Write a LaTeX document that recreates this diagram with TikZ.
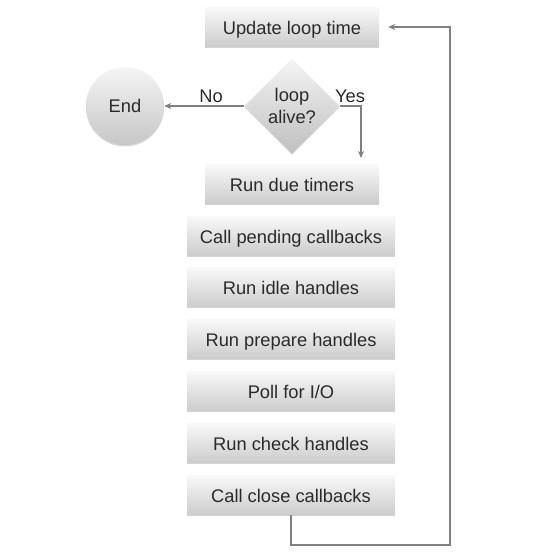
\documentclass[tikz,border=0pt]{standalone}
\usepackage{fontspec}
\setmainfont{Liberation Sans}
\usetikzlibrary{shapes.geometric,shadows,arrows.meta}
\definecolor{linegray}{HTML}{808082}
\definecolor{txt}{HTML}{2a2a2a}
\begin{document}
\begin{tikzpicture}[x=1pt,y=-1pt,
  every node/.style={text=txt,font=\fontsize{18.3}{21.5}\selectfont},
  stepbox/.style={rectangle,top color=white!95!gray,bottom color=black!20,
    draw=none,minimum height=39pt,inner sep=0pt,text height=14pt,text depth=0pt,
    drop shadow={shadow xshift=0pt,shadow yshift=-1.5pt,opacity=0.35}},
  narrowbox/.style={stepbox,minimum width=174pt},
  widebox/.style={stepbox,minimum width=208pt},
  conn/.style={draw=linegray,line width=1.4pt,-{Stealth[length=7pt,width=6pt]}}]
\useasboundingbox (0,0) rectangle (541,560);
\node[narrowbox] (update) at (292,27) {Update loop time};
\node[diamond,aspect=1,minimum width=95pt,minimum height=95pt,inner sep=0pt,
  top color=white!92!gray,bottom color=black!25,
  drop shadow={shadow xshift=0pt,shadow yshift=-1.5pt,opacity=0.3},
  align=center] (alive) at (292,106) {loop\\alive?};
\node[circle,minimum size=78pt,inner sep=0pt,top color=white!92!gray,bottom color=black!22,
  drop shadow={shadow xshift=0pt,shadow yshift=-1.5pt,opacity=0.3}] (end) at (125,106) {End};
\node[narrowbox] (timers) at (292,184) {Run due timers};
\node[widebox] (pending) at (291,236) {Call pending callbacks};
\node[widebox] (idle) at (291,287) {Run idle handles};
\node[widebox] (prepare) at (291,339) {Run prepare handles};
\node[widebox] (poll) at (291,391) {Poll for I/O};
\node[widebox] (check) at (291,443) {Run check handles};
\node[widebox] (close) at (291,495) {Call close callbacks};
\node (nolabel) at (211,96) {No};
\node (yeslabel) at (350,96) {Yes};
\coordinate (yesend) at (361,158);
\coordinate (loopcorner) at (450,545);
\draw[conn] (alive.west) -- (end.east);
\draw[conn] (alive.east) -| (yesend);
\draw[conn,shorten >=9pt] (close.south) |- (loopcorner) |- (update.east);
\end{tikzpicture}
\end{document}
